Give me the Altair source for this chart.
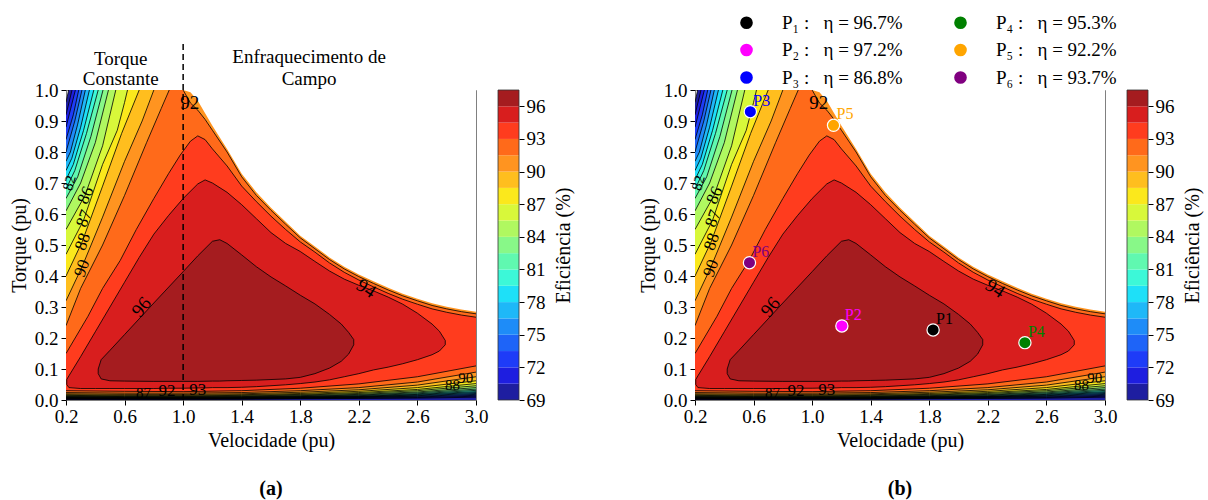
import altair as alt
import pandas as pd

SERIF = "Liberation Serif"

# ---------------- data ----------------
LEVELS = [69.0, 70.5, 72.0, 73.5, 75.0, 76.5, 78.0, 79.5, 81.0, 82.5,
          84.0, 85.5, 87.0, 88.5, 90.0, 91.5, 93.0, 94.5, 96.0]
LEVEL_MAX = 97.5
# band colours (jet-like, as in the reference colour bar), lowest band first
COLORS = ["#1e1ea0", "#1e1ee0", "#1e3cf8", "#1e64f8", "#1e8cf8", "#1eb8f8", "#1ee0f8",
          "#3cf8d8", "#60f8b0", "#88f888", "#b0f860", "#d8f83a", "#fbe81c", "#ffbe1e",
          "#ff9420", "#ff6a1a", "#ff3c1e", "#d81e1e", "#a51c1f"]
CBAR_TICKS = [69, 72, 75, 78, 81, 84, 87, 90, 93, 96]
X_TICKS = [0.2, 0.6, 1.0, 1.4, 1.8, 2.2, 2.6, 3.0]
Y_TICKS = [0.0, 0.1, 0.2, 0.3, 0.4, 0.5, 0.6, 0.7, 0.8, 0.9, 1.0]

# torque-speed limit (white above it)
LIMIT_X = [0.2, 1.0, 1.05, 1.1, 1.15, 1.2, 1.3, 1.4, 1.5, 1.6, 1.7, 1.8, 1.9, 2.0,
           2.1, 2.2, 2.3, 2.4, 2.5, 2.6, 2.7, 2.8, 2.9, 3.0]
LIMIT_T = [1.0, 1.0, 0.993, 0.965, 0.925, 0.885, 0.81, 0.73, 0.67, 0.62, 0.575, 0.53,
           0.495, 0.46, 0.43, 0.405, 0.383, 0.362, 0.343, 0.327, 0.312, 0.301, 0.292, 0.285]

# upper contour lines (upper edge of the region >= level)
HI_LINES = {
    69.0: ([0.2, 0.218], [0.96, 1.0]),
    70.5: ([0.2, 0.241], [0.92, 1.0]),
    72.0: ([0.2, 0.264], [0.88, 1.0]),
    73.5: ([0.2, 0.25, 0.287], [0.84, 0.92, 1.0]),
    75.0: ([0.2, 0.26, 0.309], [0.80, 0.90, 1.0]),
    76.5: ([0.2, 0.23, 0.28, 0.332], [0.77, 0.80, 0.89, 1.0]),
    78.0: ([0.2, 0.24, 0.30, 0.36], [0.74, 0.78, 0.88, 1.0]),
    79.5: ([0.2, 0.25, 0.32, 0.39], [0.71, 0.76, 0.87, 1.0]),
    81.0: ([0.2, 0.26, 0.34, 0.42], [0.68, 0.74, 0.86, 1.0]),
    82.5: ([0.2, 0.28, 0.37, 0.453], [0.65, 0.72, 0.85, 1.0]),
    84.0: ([0.2, 0.30, 0.40, 0.49], [0.61, 0.70, 0.83, 1.0]),
    85.5: ([0.2, 0.33, 0.45, 0.54], [0.55, 0.66, 0.82, 1.0]),
    87.0: ([0.2, 0.32, 0.45, 0.55, 0.60, 0.62], [0.47, 0.58, 0.76, 0.87, 0.96, 1.0]),
    88.5: ([0.2, 0.31, 0.45, 0.58, 0.70], [0.40, 0.51, 0.69, 0.86, 1.0]),
    90.0: ([0.2, 0.31, 0.45, 0.60, 0.72, 0.80], [0.32, 0.43, 0.59, 0.77, 0.90, 1.0]),
    91.5: ([0.2, 0.3, 0.45, 0.6, 0.75, 0.85, 0.905, 1.0, 1.03, 1.05, 1.1, 1.15, 1.2,
            1.3, 1.4, 1.5, 1.6, 1.7, 1.8, 1.9, 2.0, 2.1, 2.2, 2.3, 2.4, 2.5, 2.6, 2.7,
            2.8, 2.9, 3.0],
           [0.24, 0.36, 0.5, 0.66, 0.83, 0.94, 1.0, 1.0, 0.975, 0.958, 0.935, 0.905, 0.87,
            0.80, 0.72, 0.66, 0.612, 0.567, 0.523, 0.488, 0.453, 0.423, 0.398, 0.376,
            0.355, 0.336, 0.32, 0.305, 0.294, 0.285, 0.278]),
    93.0: ([0.2, 0.35, 0.45, 0.57, 0.68, 0.8, 0.9, 0.98, 1.05, 1.1, 1.15, 1.2, 1.3, 1.4,
            1.5, 1.6, 1.7, 1.8, 1.9, 2.0, 2.1, 2.2, 2.3, 2.4, 2.5, 2.6, 2.7, 2.8, 2.9, 3.0],
           [0.15, 0.27, 0.36, 0.45, 0.55, 0.65, 0.73, 0.79, 0.835, 0.852, 0.84, 0.81, 0.755,
            0.69, 0.64, 0.593, 0.55, 0.51, 0.477, 0.442, 0.412, 0.387, 0.365, 0.344,
            0.325, 0.309, 0.294, 0.283, 0.274, 0.267]),
}

# lower contour lines (lower edge of the region >= level), near zero torque
LO_X = [0.2, 0.6, 1.0, 1.4, 1.8, 2.2, 2.6, 3.0]
LO_LINES = {
    69.0: [0.0, 0.0, 0.0, 0.0, 0.0, 0.0, 0.0, 0.0],
    70.5: [0.002, 0.002, 0.002, 0.0025, 0.004, 0.005, 0.006, 0.009],
    72.0: [0.003, 0.003, 0.003, 0.0035, 0.005, 0.006, 0.008, 0.012],
    73.5: [0.004, 0.004, 0.004, 0.0045, 0.006, 0.008, 0.010, 0.015],
    75.0: [0.005, 0.0045, 0.0045, 0.005, 0.007, 0.009, 0.012, 0.018],
    76.5: [0.006, 0.005, 0.005, 0.006, 0.008, 0.010, 0.014, 0.021],
    78.0: [0.007, 0.006, 0.006, 0.007, 0.009, 0.011, 0.016, 0.024],
    79.5: [0.008, 0.007, 0.007, 0.008, 0.010, 0.012, 0.018, 0.027],
    81.0: [0.009, 0.008, 0.008, 0.009, 0.011, 0.014, 0.020, 0.031],
    82.5: [0.010, 0.009, 0.009, 0.010, 0.012, 0.016, 0.023, 0.035],
    84.0: [0.011, 0.010, 0.010, 0.011, 0.014, 0.018, 0.026, 0.040],
    85.5: [0.013, 0.011, 0.011, 0.013, 0.016, 0.021, 0.030, 0.046],
    87.0: [0.015, 0.013, 0.013, 0.015, 0.018, 0.024, 0.034, 0.053],
    88.5: [0.017, 0.015, 0.015, 0.017, 0.021, 0.028, 0.040, 0.062],
    90.0: [0.020, 0.018, 0.018, 0.020, 0.025, 0.033, 0.048, 0.075],
    91.5: [0.024, 0.022, 0.022, 0.024, 0.030, 0.040, 0.058, 0.090],
    93.0: [0.030, 0.028, 0.027, 0.030, 0.038, 0.052, 0.075, 0.110],
}

# closed regions >= 94.5 and >= 96
B945_X = [0.205, 0.22, 0.3, 0.4, 0.5, 0.6, 0.7, 0.8, 0.9, 1.0, 1.1, 1.15, 1.2, 1.3, 1.4,
          1.5, 1.6, 1.7, 1.8, 1.9, 2.0, 2.1, 2.2, 2.3, 2.4, 2.5, 2.6, 2.7, 2.75, 2.79]
B945_LO = [0.05, 0.04, 0.037, 0.037, 0.037, 0.037, 0.037, 0.037, 0.038, 0.038, 0.039, 0.039,
           0.04, 0.04, 0.041, 0.043, 0.046, 0.049, 0.053, 0.058, 0.065, 0.075, 0.085, 0.097,
           0.106, 0.117, 0.13, 0.146, 0.158, 0.178]
B945_HI = [0.066, 0.078, 0.14, 0.22, 0.30, 0.38, 0.46, 0.535, 0.595, 0.65, 0.697, 0.71, 0.70,
           0.67, 0.63, 0.585, 0.54, 0.505, 0.479, 0.447, 0.416, 0.39, 0.37, 0.352, 0.332,
           0.309, 0.28, 0.245, 0.222, 0.192]
B96_X = [0.42, 0.44, 0.5, 0.6, 0.8, 1.0, 1.1, 1.2, 1.25, 1.3, 1.4, 1.5, 1.6, 1.7, 1.8, 1.9,
         2.0, 2.08, 2.13, 2.165]
B96_LO = [0.085, 0.068, 0.062, 0.061, 0.06, 0.06, 0.06, 0.061, 0.061, 0.062, 0.063, 0.064,
          0.066, 0.068, 0.073, 0.085, 0.103, 0.125, 0.148, 0.178]
B96_HI = [0.10, 0.13, 0.16, 0.211, 0.313, 0.414, 0.465, 0.512, 0.517, 0.505, 0.468, 0.43,
          0.397, 0.368, 0.338, 0.31, 0.276, 0.245, 0.218, 0.195]

# contour labels
CLABEL_TEXT = ["92", "96", "94", "93", "92", "87", "90", "88", "87", "86", "82", "90", "88"]
CLABEL_X = [1.045, 0.715, 2.25, 1.10, 0.89, 0.73, 0.31, 0.315, 0.325, 0.335, 0.222, 2.93, 2.84]
CLABEL_T = [0.957, 0.30, 0.36, 0.033, 0.030, 0.024, 0.425, 0.51, 0.585, 0.66, 0.70, 0.07, 0.047]
CLABEL_ANGLE = [0, 310, 33, 0, 0, 0, 290, 290, 290, 295, 285, 0, 0]
CLABEL_SIZE = [19, 19, 19, 17, 17, 15, 17, 17, 17, 17, 15, 15, 15]

# operating points (panel b)
P_NAMES = ["P1", "P2", "P3", "P4", "P5", "P6"]
P_SUBS = ["P\u2081", "P\u2082", "P\u2083", "P\u2084", "P\u2085", "P\u2086"]
P_ETA = [96.7, 97.2, 86.8, 95.3, 92.2, 93.7]
P_X = [1.826, 1.203, 0.578, 2.453, 1.146, 0.572]
P_T = [0.226, 0.239, 0.930, 0.185, 0.886, 0.443]
P_COLORS = ["black", "magenta", "blue", "green", "orange", "purple"]

# panel a annotations
ANNOT_TEXT = ["Torque", "Constante", "Enfraquecimento de", "Campo"]
ANNOT_X = [0.574, 0.574, 1.86, 1.86]
ANNOT_T = [1.10, 1.036, 1.105, 1.036]
DASH_X = [1.0]
DASH_T0 = [0.0]
DASH_T1 = [1.16]

SPLIT_LOW = 0.113
SPLIT_HIGH = 0.12


# ---------------- chart ----------------
XS = alt.Scale(domain=[0.2, 3.0], nice=False, zero=False)
YS = alt.Scale(domain=[0.0, 1.0], nice=False, zero=False)
XAXIS = alt.Axis(values=X_TICKS, format=".1f", title="Velocidade (pu)", grid=False,
                 domain=False, tickColor="black", tickSize=5, labelFont=SERIF,
                 labelFontSize=19, labelColor="black", labelFlush=False, labelOverlap=False,
                 labelPadding=2, titleFont=SERIF, titleFontSize=20, titleFontWeight="normal",
                 titleColor="black", titlePadding=4)
YAXIS = alt.Axis(values=Y_TICKS, format=".1f", title="Torque (pu)", grid=False,
                 domain=False, tickColor="black", tickSize=5, labelFont=SERIF,
                 labelFontSize=19, labelColor="black", labelFlush=False, labelOverlap=False,
                 labelPadding=3, titleFont=SERIF, titleFontSize=20, titleFontWeight="normal",
                 titleColor="black", titlePadding=5)


def ex():
    return alt.X("x:Q", scale=XS, axis=XAXIS)


def ey(f="t"):
    return alt.Y(f"{f}:Q", scale=YS, axis=YAXIS)


def lines_frame():
    rows = []

    def add_path(key, xs, ts):
        for j, (x, t) in enumerate(zip(xs, ts)):
            rows.append({"x": x, "t": t, "key": key, "idx": j})

    for lev, (xs, ts) in HI_LINES.items():
        seg, cx, ct = 0, [], []
        for x, t in zip(xs, ts):
            if ct and t >= 1.0 and ct[-1] >= 1.0:
                add_path(f"hi{lev}_{seg}", cx, ct)
                seg, cx, ct = seg + 1, [], []
            cx.append(x)
            ct.append(t)
        add_path(f"hi{lev}_{seg}", cx, ct)
    for lev, ts in LO_LINES.items():
        if lev > LEVELS[0]:
            add_path(f"lo{lev}", LO_X, ts)
    for key, bx, blo, bhi in (("b945", B945_X, B945_LO, B945_HI), ("b96", B96_X, B96_LO, B96_HI)):
        add_path(key, bx + bx[::-1] + [bx[0]], bhi + blo[::-1] + [bhi[0]])
    return pd.DataFrame(rows)


def colorbar():
    bands = pd.DataFrame({"lo": LEVELS, "hi": LEVELS[1:] + [LEVEL_MAX], "col": COLORS,
                          "c0": 0.0, "c1": 1.0})
    cxs = alt.Scale(domain=[0, 1], range=[432, 453])
    cys = alt.Scale(domain=[LEVELS[0], LEVEL_MAX], nice=False, zero=False)
    cax = alt.Axis(orient="right", offset=43, values=CBAR_TICKS, title="Eficiência (%)",
                   grid=False, domain=False, tickColor="black", tickSize=5, labelFont=SERIF,
                   labelFontSize=19, labelColor="black", labelPadding=2, labelFlush=False,
                   titleFont=SERIF, titleFontSize=20, titleFontWeight="normal",
                   titleColor="black", titleAngle=270, titleBaseline="top", titlePadding=8)
    rects = alt.Chart(bands).mark_rect().encode(
        x=alt.X("c0:Q", scale=cxs, axis=None), x2="c1:Q",
        y=alt.Y("lo:Q", scale=cys, axis=cax), y2="hi:Q",
        fill=alt.Fill("col:N", scale=None))
    frame_df = pd.DataFrame({"c0": [0.0], "c1": [1.0], "lo": [LEVELS[0]], "hi": [LEVEL_MAX]})
    frame = alt.Chart(frame_df).mark_rect(fillOpacity=0, stroke="#333333", strokeWidth=0.8).encode(
        x=alt.X("c0:Q", scale=cxs, axis=None), x2="c1:Q",
        y=alt.Y("lo:Q", scale=cys, axis=cax), y2="hi:Q")
    return alt.layer(rects, frame)


def build_panel(caption, with_points, with_annot):
    layers = []
    n_open = 17
    for i, lev in enumerate(LEVELS[:n_open]):
        df = pd.DataFrame({"x": LO_X, "t": LO_LINES[lev], "b": [SPLIT_HIGH] * len(LO_X)})
        layers.append(alt.Chart(df).mark_area(color=COLORS[i], clip=True).encode(
            x=ex(), y=ey(), y2="b:Q"))
    for i, lev in enumerate(LEVELS[:n_open]):
        xs, ts = HI_LINES[lev]
        xs, ts = list(xs), list(ts)
        if xs[-1] < 3.0:
            xs.append(3.0)
            ts.append(1.0)
        df = pd.DataFrame({"x": xs, "t": ts, "b": [SPLIT_LOW] * len(xs)})
        layers.append(alt.Chart(df).mark_area(color=COLORS[i], clip=True).encode(
            x=ex(), y=ey(), y2="b:Q"))
    for i, (bx, blo, bhi) in ((17, (B945_X, B945_LO, B945_HI)), (18, (B96_X, B96_LO, B96_HI))):
        df = pd.DataFrame({"x": bx, "lo": blo, "hi": bhi})
        layers.append(alt.Chart(df).mark_area(color=COLORS[i], clip=True).encode(
            x=ex(), y=ey("hi"), y2="lo:Q"))
    layers.append(alt.Chart(lines_frame()).mark_line(color="black", strokeWidth=0.8, clip=True).encode(
        x=ex(), y=ey(), detail="key:N", order="idx:Q"))
    mask = pd.DataFrame({"x": LIMIT_X, "t": LIMIT_T, "b": [1.0] * len(LIMIT_X)})
    layers.append(alt.Chart(mask).mark_area(color="white", clip=True).encode(
        x=ex(), y=ey(), y2="b:Q"))
    cl = pd.DataFrame({"x": CLABEL_X, "t": CLABEL_T, "txt": CLABEL_TEXT, "ang": CLABEL_ANGLE,
                       "sz": CLABEL_SIZE})
    layers.append(alt.Chart(cl).mark_text(font=SERIF, color="black").encode(
        x=ex(), y=ey(), text="txt:N", angle=alt.Angle("ang:Q", scale=None),
        size=alt.Size("sz:Q", scale=None)))
    if with_annot:
        dash = pd.DataFrame({"x": DASH_X, "t": DASH_T0, "t2": DASH_T1})
        layers.append(alt.Chart(dash).mark_rule(color="black", strokeDash=[6, 4], strokeWidth=1.5).encode(
            x=ex(), y=ey(), y2="t2:Q"))
        an = pd.DataFrame({"x": ANNOT_X, "t": ANNOT_T, "txt": ANNOT_TEXT})
        layers.append(alt.Chart(an).mark_text(font=SERIF, fontSize=19, color="black").encode(
            x=ex(), y=ey(), text="txt:N"))
    if with_points:
        labels = [f"{s} :\u00a0\u00a0\u00a0η = {e}%" for s, e in zip(P_SUBS, P_ETA)]
        pts = pd.DataFrame({"name": P_NAMES, "x": P_X, "t": P_T, "label": labels})
        cscale = alt.Scale(domain=labels, range=P_COLORS)
        leg = alt.Legend(title=None, orient="none", legendX=42, legendY=-77, columns=2,
                         symbolType="circle", symbolSize=160, symbolStrokeWidth=0,
                         labelFont=SERIF, labelFontSize=19, labelColor="black", labelOffset=26,
                         columnPadding=48, rowPadding=7.5, labelLimit=400, padding=0)
        col = alt.Color("label:N", scale=cscale, legend=leg)
        layers.append(alt.Chart(pts).mark_point(filled=True, size=150, opacity=1, stroke="white",
                                                strokeWidth=1.2).encode(x=ex(), y=ey(), color=col))
        layers.append(alt.Chart(pts).mark_text(font=SERIF, fontSize=16, align="left",
                                               baseline="bottom", dx=3, dy=-3).encode(
            x=ex(), y=ey(), text="name:N", color=col))
    main = alt.layer(*layers)
    return alt.layer(main, colorbar()).resolve_scale(x="independent", y="independent").properties(
        width=410, height=310,
        title=alt.TitleParams(text=caption, orient="bottom", anchor="middle", font=SERIF,
                              fontSize=20, fontWeight="bold", color="black", offset=29))


panel_a = build_panel("(a)", with_points=False, with_annot=True)
panel_b = build_panel("(b)", with_points=True, with_annot=False)

chart = alt.hconcat(panel_a, panel_b, spacing=219, bounds="flush").resolve_scale(
    color="independent", fill="independent"
).properties(
    padding={"left": 8, "top": 12, "right": 4, "bottom": 4}
).configure(font=SERIF).configure_view(stroke="#808080", strokeWidth=1)

chart.save("out.html", embed_options={"renderer": "svg", "actions": False})
